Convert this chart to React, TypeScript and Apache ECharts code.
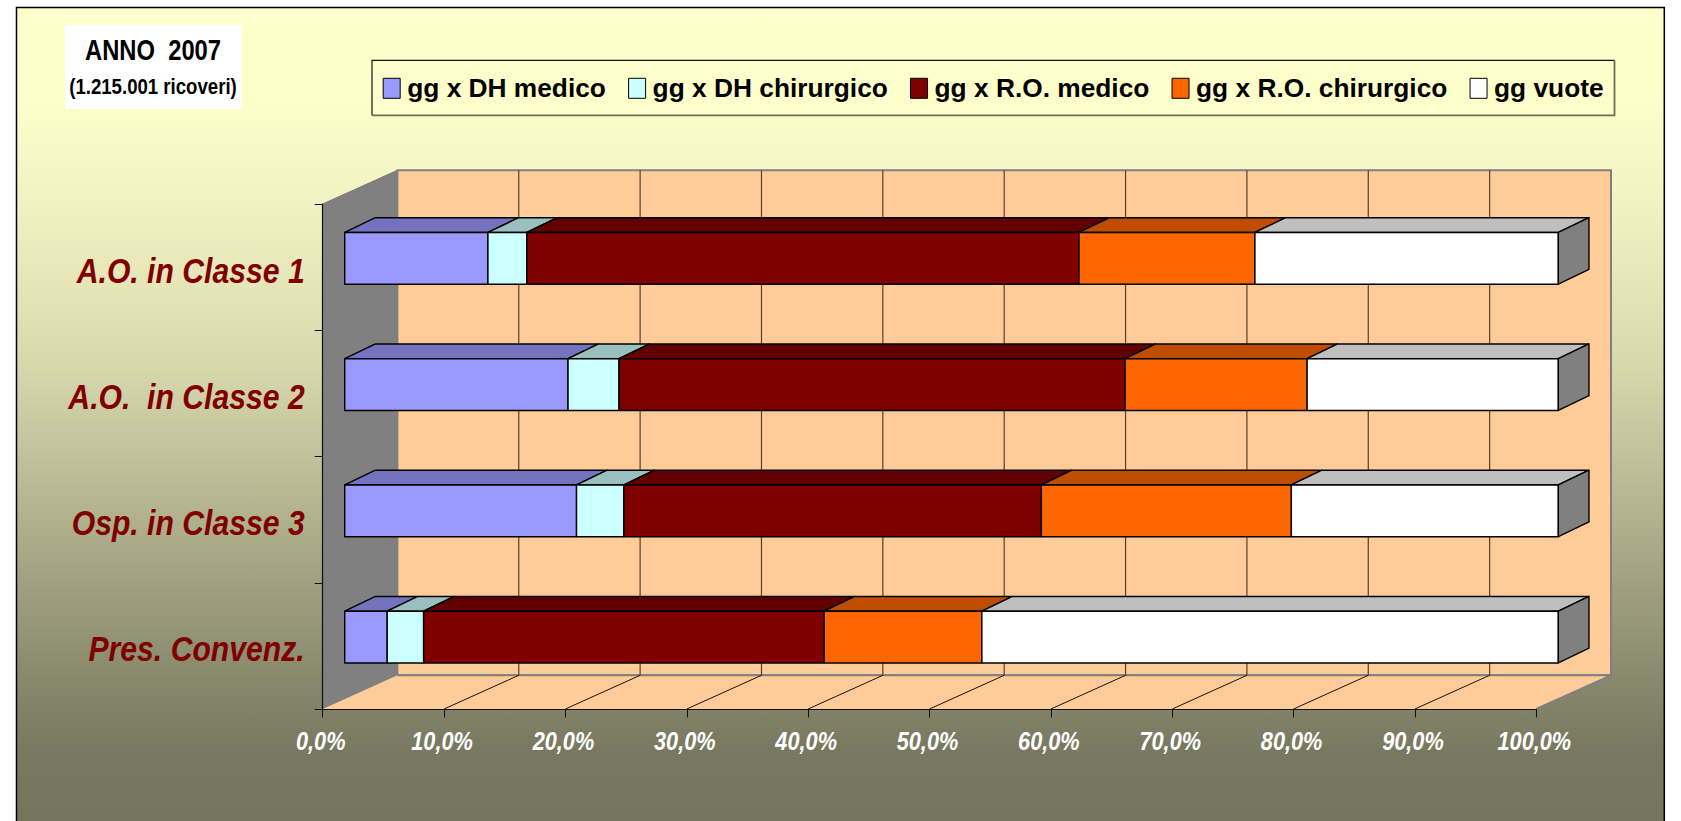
import React, { useEffect, useRef } from "react";
import * as echarts from "echarts";

const categories = ["A.O. in Classe 1", "A.O.  in Classe 2", "Osp. in Classe 3", "Pres. Convenz."];
const seriesNames = ["gg x DH medico", "gg x DH chirurgico", "gg x R.O. medico", "gg x R.O. chirurgico", "gg vuote"];
const dhMedico = [11.8, 18.4, 19.1, 3.5];
const dhChirurgico = [3.2, 4.2, 3.9, 3.0];
const roMedico = [45.5, 41.7, 34.4, 33.0];
const roChirurgico = [14.5, 15.0, 20.6, 13.0];
const vuote = [25.0, 20.7, 22.0, 47.5];
const tickValues = [0, 10, 20, 30, 40, 50, 60, 70, 80, 90, 100];

const frontColors = ["#9999FF", "#CCFFFF", "#800000", "#FF6600", "#FFFFFF"];
const topColors = ["#7373BF", "#99BFBF", "#600000", "#BF4D00", "#BFBFBF"];
const DEPTH_X = 74.7;
const DEPTH_Y = 33.7;
const BAR_NEAR = 0.295;
const BAR_FAR = 0.705;
const BAR_NEAR_Y = 0.26;
const BAR_FAR_Y = 0.698;
const NARROW_SCALE = 0.82;
const LABEL_SCALE = 0.838;
const SANS = "'Liberation Sans', Arial, sans-serif";

const FRAME_TOP = 7.5;
const FRAME_H = 830;
const bgStop = (y: number, r: number) => {
  const b = Math.round(r * 0.8);
  return { offset: (y - FRAME_TOP) / FRAME_H, color: `rgb(${r},${r},${b})` };
};

export default function App() {
  const ref = useRef<HTMLDivElement>(null);
  useEffect(() => {
    document.body.style.margin = "0";
    document.body.style.background = "#fff";
    const chart = echarts.init(ref.current!, null, { renderer: "svg" });

    const allValues = [dhMedico, dhChirurgico, roMedico, roChirurgico, vuote];
    const cum = categories.map(() => 0);
    const barSeries = allValues.map((vals, si) => {
      const data = vals.map((v, ci) => {
        const s = cum[ci];
        cum[ci] += v;
        return [ci, s, cum[ci]];
      });
      return {
        type: "custom",
        name: seriesNames[si],
        coordinateSystem: "cartesian2d",
        z: 3 + si,
        clip: false,
        silent: true,
        itemStyle: { color: frontColors[si] },
        encode: { x: [1, 2], y: 0 },
        data,
        renderItem: (_: any, api: any) => {
          const cat = api.value(0);
          const a = api.coord([api.value(1), cat]);
          const b = api.coord([api.value(2), cat]);
          const h = api.size([0, 1])[1] * 0.41;
          const nx = BAR_NEAR * DEPTH_X, ny = BAR_NEAR_Y * DEPTH_Y;
          const fx = BAR_FAR * DEPTH_X, fy = BAR_FAR_Y * DEPTH_Y;
          const top = a[1] - h / 2 - ny;
          const x0 = a[0] + nx, x1 = b[0] + nx;
          const line = { stroke: "#000", lineWidth: 1.4, lineJoin: "round" };
          const bx0 = a[0] + fx, bx1 = b[0] + fx, by = a[1] - h / 2 - fy;
          const children: any[] = [
            {
              type: "polygon",
              shape: { points: [[x0, top], [x1, top], [bx1, by], [bx0, by]] },
              style: { fill: topColors[si], ...line },
            },
            {
              type: "rect",
              shape: { x: x0, y: top, width: x1 - x0, height: h },
              style: { fill: frontColors[si], ...line },
            },
          ];
          if (si === allValues.length - 1) {
            children.push({
              type: "polygon",
              shape: { points: [[x1, top], [bx1, by], [bx1, by + h], [x1, top + h]] },
              style: { fill: "#808080", ...line },
            });
          }
          return { type: "group", children };
        },
      };
    });

    const wallSeries = {
      type: "custom",
      name: "walls",
      coordinateSystem: "cartesian2d",
      z: 1,
      clip: false,
      silent: true,
      data: [[0, 0]],
      encode: { x: 0, y: 1 },
      renderItem: (params: any, api: any) => {
        const cs = params.coordSys;
        const L = cs.x, R = cs.x + cs.width, T = cs.y, B = cs.y + cs.height;
        const children: any[] = [
          {
            type: "polygon",
            shape: { points: [[L, T], [L + DEPTH_X, T - DEPTH_Y], [L + DEPTH_X, B - DEPTH_Y], [L, B]] },
            style: { fill: "#808080", stroke: "#777", lineWidth: 1 },
          },
          {
            type: "rect",
            shape: { x: L + DEPTH_X, y: T - DEPTH_Y, width: cs.width, height: cs.height },
            style: { fill: "#FFCC99", stroke: "#808080", lineWidth: 2 },
          },
          {
            type: "polygon",
            shape: { points: [[L, B], [R, B], [R + DEPTH_X, B - DEPTH_Y], [L + DEPTH_X, B - DEPTH_Y]] },
            style: { fill: "#FFCC99" },
          },
          {
            type: "polyline",
            shape: { points: [[R, B], [R + DEPTH_X, B - DEPTH_Y], [L + DEPTH_X, B - DEPTH_Y]] },
            style: { fill: "none", stroke: "#808080", lineWidth: 2 },
          },
        ];
        tickValues.slice(1, -1).forEach((v) => {
          const x = api.coord([v, 0])[0];
          children.push({
            type: "line",
            shape: { x1: x + DEPTH_X, y1: T - DEPTH_Y, x2: x + DEPTH_X, y2: B - DEPTH_Y },
            style: { stroke: "#54402f", lineWidth: 1.2 },
          });
          children.push({
            type: "line",
            shape: { x1: x, y1: B, x2: x + DEPTH_X, y2: B - DEPTH_Y },
            style: { stroke: "#1a1208", lineWidth: 1 },
          });
        });
        // Axis labels are drawn here so they can be horizontally condensed like the original.
        tickValues.forEach((v) => {
          children.push({
            type: "text",
            x: api.coord([v, 0])[0] - 2,
            y: B + 32,
            scaleX: NARROW_SCALE,
            style: {
              text: `${v.toFixed(1).replace(".", ",")}%`,
              fill: "#fff",
              align: "center",
              verticalAlign: "middle",
              font: `italic bold 26.5px ${SANS}`,
            },
          });
        });
        categories.forEach((c, i) => {
          const p = api.coord([0, i]);
          children.push({
            type: "text",
            x: p[0] - 18,
            y: p[1] + 3,
            scaleX: LABEL_SCALE,
            style: {
              text: c,
              fill: "#800000",
              align: "right",
              verticalAlign: "middle",
              font: `italic bold 36px ${SANS}`,
            },
          });
        });
        return { type: "group", children };
      },
    };

    chart.setOption({
      animation: false,
      graphic: [
        {
          type: "rect",
          z: -5,
          shape: { x: 16.5, y: FRAME_TOP, width: 1647.8, height: FRAME_H },
          style: {
            fill: new echarts.graphic.LinearGradient(0, 0, 0, 1, [
              bgStop(7.5, 255), bgStop(100, 254), bgStop(170, 246), bgStop(300, 227),
              bgStop(370, 215), bgStop(680, 136), bgStop(750, 121), bgStop(837, 117),
            ]),
            stroke: "#000",
            lineWidth: 1.5,
          },
        },
        {
          type: "rect",
          z: 10,
          shape: { x: 65, y: 25, width: 176.5, height: 84 },
          style: { fill: "#fff" },
        },
        {
          type: "text",
          z: 11,
          x: 153,
          y: 50,
          scaleX: NARROW_SCALE,
          style: {
            text: "ANNO  2007", fill: "#000", align: "center", verticalAlign: "middle",
            font: `bold 29px ${SANS}`,
          },
        },
        {
          type: "text",
          z: 11,
          x: 153,
          y: 86,
          scaleX: NARROW_SCALE,
          style: {
            text: "(1.215.001 ricoveri)", fill: "#000", align: "center", verticalAlign: "middle",
            font: `bold 22.7px ${SANS}`,
          },
        },
        {
          type: "rect",
          z: -1,
          shape: { x: 372, y: 60.3, width: 1242.5, height: 55 },
          style: { fill: "#FFFFCC" },
        },
        {
          type: "polyline",
          z: -1,
          shape: { points: [[372, 115.3], [372, 60.3], [1614.5, 60.3]] },
          style: { fill: "none", stroke: "#111", lineWidth: 1.2 },
        },
        {
          type: "polyline",
          z: -1,
          shape: { points: [[1614.5, 60.3], [1614.5, 115.3], [372, 115.3]] },
          style: { fill: "none", stroke: "#6f6f55", lineWidth: 1.8 },
        },
      ],
      grid: { left: 322.7, top: 204, width: 1213.6, height: 505, containLabel: false },
      legend: {
        show: true,
        data: seriesNames,
        left: 372,
        top: 60.3,
        orient: "horizontal",
        icon: "rect",
        itemWidth: 17,
        itemHeight: 20,
        itemGap: 22.2,
        padding: [15, 0, 15, 10.7],
        selectedMode: false,
        itemStyle: { borderColor: "#000", borderWidth: 1 },
        textStyle: {
          color: "#000", fontFamily: SANS, fontWeight: "bold", fontSize: 26.3,
          padding: [5, 0, 0, 2],
        },
      },
      xAxis: {
        type: "value",
        min: 0,
        max: 100,
        interval: 10,
        z: 8,
        splitLine: { show: false },
        axisLine: { show: true, lineStyle: { color: "#111", width: 1.2 } },
        axisTick: { show: true, length: 8.5, lineStyle: { color: "#111", width: 1 } },
        axisLabel: { show: false },
      },
      yAxis: {
        type: "category",
        inverse: true,
        data: categories,
        z: 8,
        axisLine: { show: true, lineStyle: { color: "#111", width: 1.2 } },
        axisTick: { show: true, length: 8, lineStyle: { color: "#111", width: 1 } },
        axisLabel: { show: false },
      },
      series: [wallSeries, ...barSeries],
    });
    return () => chart.dispose();
  }, []);
  return <div ref={ref} style={{ position: "absolute", left: 0, top: 0, width: 1681, height: 821 }} />;
}
